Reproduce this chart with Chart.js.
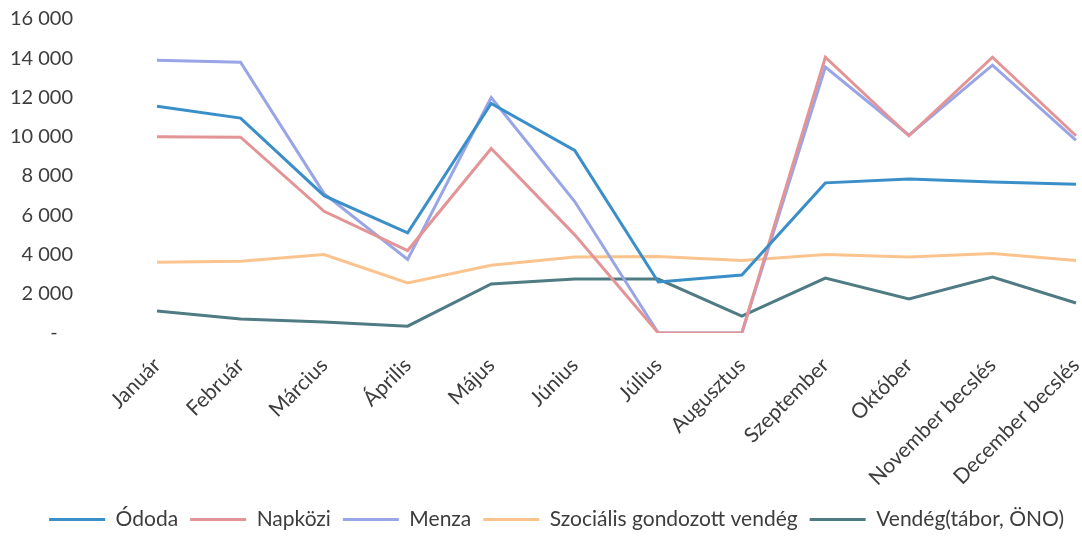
<!DOCTYPE html>
<html>
<head>
<meta charset="utf-8">
<script src="https://cdn.jsdelivr.net/npm/chart.js@4"></script>
<style>
  html, body { margin: 0; padding: 0; background: #fff; }
  #wrap { width: 1082px; height: 536px; }
</style>
</head>
<body>
<div id="wrap"><canvas id="lineChart"></canvas></div>
<script>
const months = ['Január', 'Február', 'Március', 'Április', 'Május', 'Június', 'Július',
  'Augusztus', 'Szeptember', 'Október', 'November becslés', 'December becslés'];

const ovoda = [11550, 10950, 7000, 5100, 11700, 9300, 2600, 2950, 7650, 7850, 7700, 7580];
const napkozi = [10000, 9980, 6200, 4200, 9400, 5000, 0, 0, 14050, 10050, 14050, 10050];
const menza = [13900, 13800, 7100, 3750, 12000, 6700, 0, 0, 13550, 10080, 13650, 9820];
const szocialis = [3600, 3650, 4000, 2550, 3450, 3870, 3900, 3700, 4000, 3870, 4050, 3700];
const vendeg = [1120, 710, 560, 350, 2500, 2750, 2750, 860, 2800, 1730, 2850, 1530];

// accounting style: space as thousands separator, dash for zero
const fmt = v => v === 0 ? '-   ' : v.toString().replace(/\B(?=(\d{3})+(?!\d))/g, ' ');

function series(label, data, color) {
    return {
        label: label,
        data: data,
        borderColor: color,
        backgroundColor: color,
        borderWidth: 3,
        pointRadius: 0,
        tension: 0
    };
}

// keep the legend box short so it sits near the bottom edge
const legendHeight = {
    id: 'legendHeight',
    beforeInit(chart) {
        const fit = chart.legend.fit;
        chart.legend.fit = function () {
            fit.bind(chart.legend)();
            this.height = 39;
        };
    }
};

const textColor = '#3d3d3d';

const ctx = document.getElementById('lineChart').getContext('2d');
const lineChart = new Chart(ctx, {
    type: 'line',
    data: {
        labels: months,
        datasets: [
            series('Ódoda', ovoda, '#3a8fc8'),
            series('Napközi', napkozi, '#e39496'),
            series('Menza', menza, '#98a5e6'),
            series('Szociális gondozott vendég', szocialis, '#fbc48e'),
            series('Vendég(tábor, ÖNO)', vendeg, '#4f7b83')
        ]
    },
    plugins: [legendHeight],
    options: {
        responsive: true,
        maintainAspectRatio: false,
        animation: false,
        layout: { padding: { top: 19, right: 6, bottom: 0, left: 0 } },
        plugins: {
            tooltip: { enabled: false },
            legend: {
                position: 'bottom',
                align: 'end',
                labels: {
                    usePointStyle: true,
                    pointStyle: 'line',
                    pointStyleWidth: 56,
                    padding: 12,
                    color: textColor,
                    font: { family: 'Lato', size: 21 }
                }
            }
        },
        scales: {
            x: {
                grid: { display: false },
                border: { display: false },
                ticks: {
                    minRotation: 45,
                    maxRotation: 45,
                    autoSkip: false,
                    padding: 12,
                    color: textColor,
                    font: { family: 'Lato', size: 21 }
                },
                afterFit: scale => {
                    scale.height = 164;
                    scale.paddingLeft = 0;
                    scale.paddingRight = 0;
                }
            },
            y: {
                min: 0,
                max: 16000,
                grid: { display: false },
                border: { display: false },
                ticks: {
                    stepSize: 2000,
                    padding: 76,
                    color: textColor,
                    font: { family: 'Lato', size: 20 },
                    callback: v => fmt(v)
                },
                afterFit: scale => {
                    scale.width = 157;
                    scale.paddingTop = 10;
                    scale.paddingBottom = 10;
                }
            }
        }
    }
});
</script>
</body>
</html>
